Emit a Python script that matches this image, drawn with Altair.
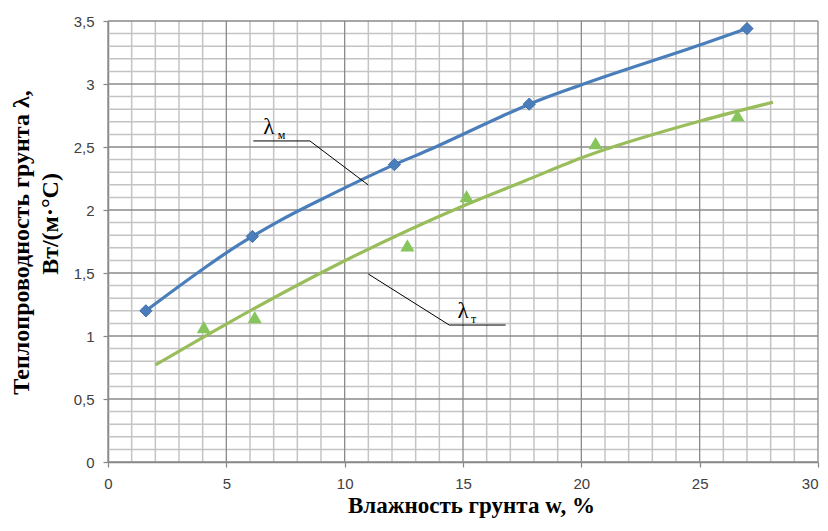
import altair as alt
import pandas as pd

m_w = [1.6, 6.1, 12.1, 17.8, 27.0]
m_lam = [1.20, 1.79, 2.36, 2.84, 3.44]
t_w = [4.05, 6.2, 12.65, 15.15, 20.6, 26.6]
t_lam = [1.07, 1.15, 1.72, 2.11, 2.53, 2.75]

# ---- trend curves ----
mc_w = [1.6, 4.0, 5.0, 6.1, 7.3, 9.4, 12.1, 13.6, 16.6, 17.8, 20.1, 25.1, 27.0]
mc_lam = [1.20, 1.53, 1.66, 1.79, 1.92, 2.12, 2.36, 2.48, 2.74, 2.84, 3.00, 3.315, 3.44]
tc_w = [2.0, 5.0, 9.4, 15.1, 17.6, 20.1, 25.1, 28.1]
tc_lam = [0.77, 1.095, 1.54, 2.04, 2.23, 2.42, 2.71, 2.855]

# ---- annotation leaders and labels ----
lm_lead_w = [6.14, 8.53, 11.0]
lm_lead_lam = [2.548, 2.548, 2.198]
lt_lead_w = [11.0, 14.42, 16.8]
lt_lead_lam = [1.492, 1.087, 1.087]
lab_text = ["λ", "λ"]
lab_w = [6.8, 15.0]
lab_lam = [2.60, 1.143]
sub_text = ["м", "т"]
sub_w = [7.33, 15.45]
sub_lam = [2.562, 1.103]

# ---- ticks / grid ----
x_major = [0, 5, 10, 15, 20, 25, 30]
y_major = [0, 0.5, 1, 1.5, 2, 2.5, 3, 3.5]
x_minor = [v for v in range(0, 31) if v % 5 != 0]
y_minor = [round(v / 10, 1) for v in range(0, 36) if v % 5 != 0]

x_title = "Влажность грунта w, %"
y_title_1 = "Теплопроводность грунта λ,"
y_title_2 = "Вт/(м·°С)"

xs = alt.Scale(domain=[0, 30], nice=False, zero=False)
ys = alt.Scale(domain=[0, 3.5], nice=False, zero=False)

x_axis = alt.Axis(
    values=x_major, grid=False, domainColor="#868686", domainWidth=1.5,
    tickColor="#868686", tickSize=5, tickWidth=1.2,
    labelFont="Liberation Sans", labelFontSize=15, labelColor="#404040",
    labelPadding=9,
    labelAlign=alt.ConditionalAxisLabelAlign(
        condition={"test": "datum.value == 30", "value": "right"}, value="center"),
    title=x_title, titleFont="Liberation Serif",
    titleFontSize=23, titleFontWeight="bold", titleColor="black",
    titleX=363, titleY=50, titleAlign="center", titleBaseline="alphabetic",
)
y_axis = alt.Axis(
    values=y_major, grid=False, domainColor="#868686", domainWidth=1.5,
    tickColor="#868686", tickSize=5, tickWidth=1.2,
    labelFont="Liberation Sans", labelFontSize=15, labelColor="#404040",
    labelPadding=9,
    labelExpr="replace(format(datum.value, '.1~f'), '.', ',')",
    title="",
)

def X(f):
    return alt.X(f, type="quantitative", scale=xs, axis=x_axis)

def Y(f):
    return alt.Y(f, type="quantitative", scale=ys, axis=y_axis)

xmin_df = pd.DataFrame({"w": x_minor})
ymin_df = pd.DataFrame({"lam": y_minor})
xmaj_df = pd.DataFrame({"w": x_major})
ymaj_df = pd.DataFrame({"lam": y_major})

grid_minor_x = alt.Chart(xmin_df).mark_rule(color="#c4c4c4", strokeWidth=1.5).encode(x=X("w"))
grid_minor_y = alt.Chart(ymin_df).mark_rule(color="#c4c4c4", strokeWidth=1.5).encode(y=Y("lam"))
grid_major_x = alt.Chart(xmaj_df).mark_rule(color="#8a8a8a", strokeWidth=1.3).encode(x=X("w"))
grid_major_y = alt.Chart(ymaj_df).mark_rule(color="#8a8a8a", strokeWidth=1.3).encode(y=Y("lam"))

mc_df = pd.DataFrame({"w": mc_w, "lam": mc_lam})
tc_df = pd.DataFrame({"w": tc_w, "lam": tc_lam})
m_df = pd.DataFrame({"w": m_w, "lam": m_lam})
t_df = pd.DataFrame({"w": t_w, "lam": t_lam})

m_curve = alt.Chart(mc_df).mark_line(color="#4a7ebb", strokeWidth=3.2, interpolate="monotone").encode(
    x=X("w"), y=Y("lam"))
t_curve = alt.Chart(tc_df).mark_line(color="#98bd5a", strokeWidth=3.2, interpolate="monotone").encode(
    x=X("w"), y=Y("lam"))
m_pts = alt.Chart(m_df).mark_point(shape="diamond", filled=True, size=150, color="#4a7ebb",
                                   stroke="#3f70ad", strokeWidth=1, opacity=1).encode(x=X("w"), y=Y("lam"))
t_pts = alt.Chart(t_df).mark_point(shape="triangle-up", filled=True, size=200, color="#86c45c",
                                   opacity=1).encode(x=X("w"), y=Y("lam"))

lm_df = pd.DataFrame({"w": lm_lead_w, "lam": lm_lead_lam, "o": [0, 1, 2]})
lt_df = pd.DataFrame({"w": lt_lead_w, "lam": lt_lead_lam, "o": [0, 1, 2]})
lm_lead = alt.Chart(lm_df).mark_line(color="black", strokeWidth=1).encode(x=X("w"), y=Y("lam"), order="o:Q")
lt_lead = alt.Chart(lt_df).mark_line(color="black", strokeWidth=1).encode(x=X("w"), y=Y("lam"), order="o:Q")

lab_df = pd.DataFrame({"w": lab_w, "lam": lab_lam, "t": lab_text})
sub_df = pd.DataFrame({"w": sub_w, "lam": sub_lam, "t": sub_text})
labs = alt.Chart(lab_df).mark_text(font="Liberation Serif", fontSize=23, align="center",
                                   baseline="alphabetic", color="black").encode(x=X("w"), y=Y("lam"), text="t:N")
subs = alt.Chart(sub_df).mark_text(font="Liberation Serif", fontSize=12, align="center",
                                   baseline="alphabetic", color="black").encode(x=X("w"), y=Y("lam"), text="t:N")

# y-axis title, two lines placed independently (outside the plot area)
yt1 = alt.Chart(pd.DataFrame({"t": [y_title_1]})).mark_text(
    font="Liberation Serif", fontSize=24, fontWeight="bold", angle=270,
    align="center", baseline="alphabetic", color="black",
).encode(x=alt.value(-79), y=alt.value(221.5), text="t:N")
yt2 = alt.Chart(pd.DataFrame({"t": [y_title_2]})).mark_text(
    font="Liberation Serif", fontSize=24, fontWeight="bold", angle=270,
    align="center", baseline="alphabetic", color="black",
).encode(x=alt.value(-50), y=alt.value(203), text="t:N")

chart = alt.layer(
    grid_minor_x, grid_minor_y, grid_major_x, grid_major_y,
    m_curve, t_curve, m_pts, t_pts, lm_lead, lt_lead, labs, subs, yt1, yt2,
).properties(
    width=710, height=441,
    padding={"left": 100, "top": 13, "right": 2, "bottom": 56},
    autosize=alt.AutoSizeParams(type="none"),
    background="white",
).configure_view(stroke=None)

chart.save("out.html", embed_options={"renderer": "svg", "actions": False})
